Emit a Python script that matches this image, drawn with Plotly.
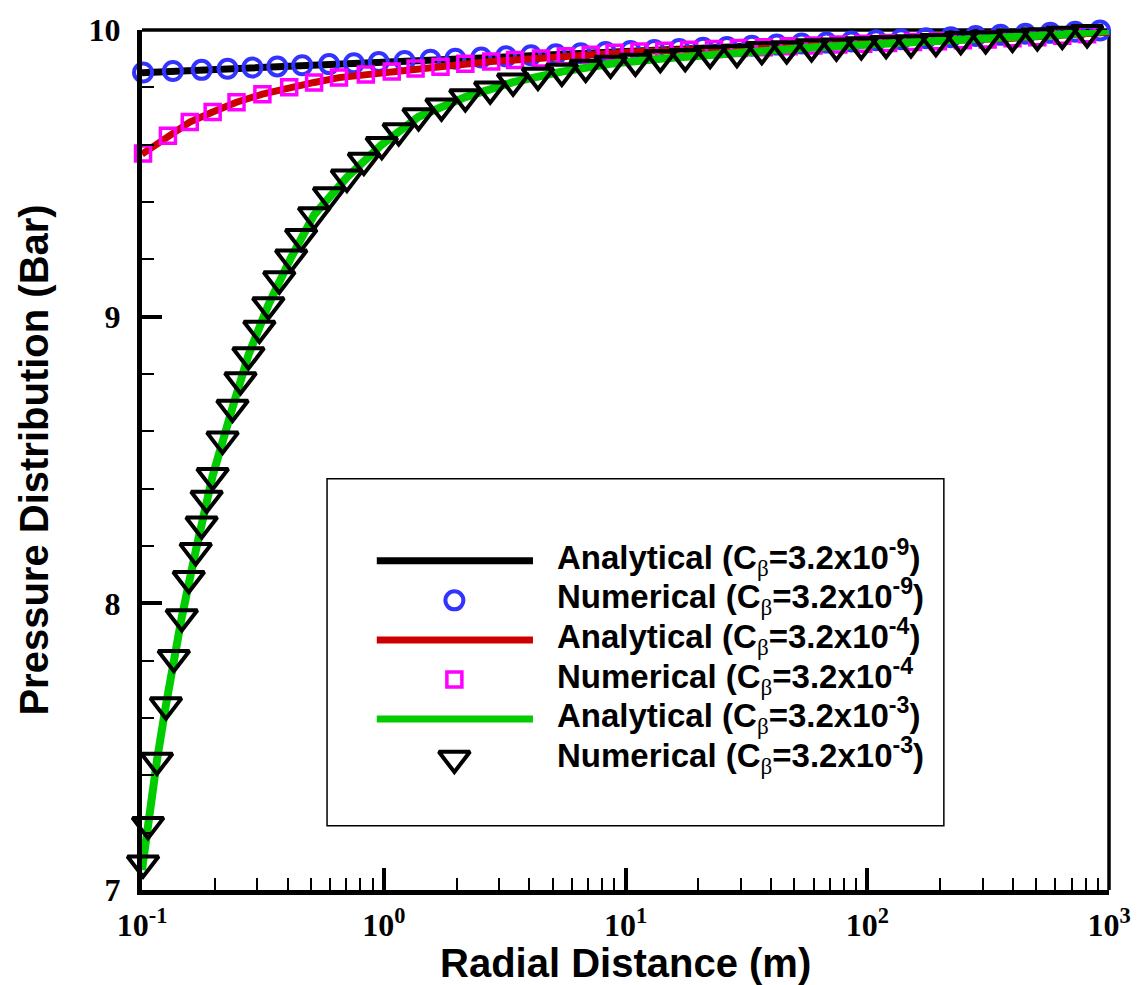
import plotly.graph_objects as go

# ---------------- data ----------------
# Analytical, C_beta = 3.2e-9 (black line)
black_r = [0.1, 0.3, 1, 3, 10, 30, 100, 300, 1000]
black_p = [9.851, 9.867, 9.887, 9.905, 9.925, 9.943, 9.961, 9.979, 9.997]

# Numerical, C_beta = 3.2e-9 (blue circles)
circ_r = [0.101, 0.1342, 0.1765, 0.2259, 0.2862, 0.3628, 0.4599, 0.5939, 0.7524, 0.9537,
          1.220, 1.561, 1.978, 2.531, 3.208, 4.066, 5.151, 6.529, 8.274, 10.48,
          13.16, 16.68, 20.94, 26.29, 33.32, 42.23, 53.51, 67.81, 85.96, 108.9,
          138.0, 174.9, 221.7, 280.9, 355.9, 451.1, 571.8, 724.6, 918.2]
circ_p = [9.852, 9.857, 9.861, 9.865, 9.869, 9.873, 9.877, 9.881, 9.884, 9.888,
          9.892, 9.896, 9.900, 9.904, 9.908, 9.912, 9.915, 9.919, 9.923, 9.927,
          9.930, 9.934, 9.938, 9.941, 9.945, 9.949, 9.953, 9.956, 9.960, 9.964,
          9.968, 9.971, 9.975, 9.979, 9.983, 9.987, 9.990, 9.994, 9.998]

# Analytical, C_beta = 3.2e-4 (red line)
red_r = [0.1, 0.128, 0.1576, 0.196, 0.246, 0.3148, 0.4064, 0.5151, 0.6529, 0.8432,
         1.079, 1.717, 2.783, 4.469, 7.178, 11.42, 23.25, 47.31, 96.27, 196.0, 398.8, 1000]
red_p = [9.567, 9.631, 9.679, 9.714, 9.748, 9.776, 9.800, 9.817, 9.834, 9.845,
         9.855, 9.872, 9.890, 9.901, 9.914, 9.925, 9.934, 9.943, 9.952, 9.961, 9.971, 9.992]

# Numerical, C_beta = 3.2e-4 (magenta squares)
sq_r = [0.101, 0.128, 0.1576, 0.196, 0.246, 0.3148, 0.4064, 0.5151, 0.6529, 0.8432,
        1.079, 1.354, 1.717, 2.175, 2.783, 3.493, 4.469, 5.664, 7.178, 9.01,
        11.42, 14.47, 18.34, 23.25, 29.46, 37.33, 47.31, 59.95, 75.97, 96.27,
        122.0, 154.6, 196.0, 248.4, 314.7, 398.8, 505.4, 640.8, 811.9]
sq_p = [9.569, 9.631, 9.679, 9.714, 9.748, 9.776, 9.800, 9.817, 9.834, 9.845,
        9.855, 9.866, 9.872, 9.882, 9.890, 9.895, 9.901, 9.908, 9.914, 9.921,
        9.925, 9.928, 9.931, 9.934, 9.937, 9.940, 9.943, 9.946, 9.949, 9.952,
        9.955, 9.958, 9.961, 9.964, 9.967, 9.971, 9.975, 9.980, 9.985]

# Analytical, C_beta = 3.2e-3 (green line)
green_r = [0.1, 0.1059, 0.1153, 0.1256, 0.1354, 0.1461, 0.1668, 0.196, 0.2368, 0.2756,
           0.3332, 0.4143, 0.5151, 0.704, 0.9813, 1.393, 2.175, 3.428, 5.453, 8.675,
           13.93, 22.38, 36.63, 58.83, 94.47, 151.7, 243.7, 398.8, 640.8, 1000]
green_p = [7.070, 7.228, 7.452, 7.645, 7.810, 7.952, 8.183, 8.445, 8.683, 8.866,
           9.041, 9.207, 9.355, 9.486, 9.600, 9.697, 9.766, 9.818, 9.855, 9.882,
           9.900, 9.915, 9.928, 9.939, 9.948, 9.956, 9.965, 9.974, 9.984, 9.997]

# Numerical, C_beta = 3.2e-3 (black down triangles)
tri_r = [0.101, 0.1059, 0.1153, 0.1256, 0.1354, 0.1461, 0.1561, 0.1668, 0.1765, 0.1851,
         0.1960, 0.2154, 0.2368, 0.2555, 0.2756, 0.3059, 0.3332, 0.3697, 0.4143, 0.4554,
         0.5151, 0.5939, 0.7040, 0.8274, 0.9813, 1.153, 1.393, 1.733, 2.175, 2.756,
         3.428, 4.344, 5.453, 6.845, 8.675, 10.99, 13.93, 17.66, 22.38, 28.90,
         36.63, 46.42, 58.83, 74.56, 94.47, 119.7, 151.7, 192.3, 243.7, 308.9,
         398.8, 505.4, 640.8, 811.9]
tri_p = [7.093, 7.228, 7.452, 7.645, 7.810, 7.952, 8.086, 8.183, 8.276, 8.366,
         8.445, 8.572, 8.683, 8.779, 8.866, 8.959, 9.041, 9.131, 9.207, 9.279,
         9.355, 9.424, 9.486, 9.545, 9.600, 9.648, 9.700, 9.734, 9.766, 9.793,
         9.821, 9.841, 9.855, 9.869, 9.883, 9.890, 9.903, 9.907, 9.917, 9.921,
         9.931, 9.934, 9.941, 9.943, 9.948, 9.952, 9.955, 9.959, 9.966, 9.969,
         9.974, 9.979, 9.984, 9.990]

x_tickvals = [0.1, 1, 10, 100, 1000]
x_ticktext = ["10<sup>-1</sup>", "10<sup>0</sup>", "10<sup>1</sup>", "10<sup>2</sup>", "10<sup>3</sup>"]
y_tickvals = [7, 8, 9, 10]
y_ticktext = ["7", "8", "9", "10"]

beta = '<span style="font-family:Liberation Serif;font-weight:normal">β</span>'
legend_labels = [
    "Analytical (C<sub>" + beta + "</sub>=3.2x10<sup>-9</sup>)",
    "Numerical (C<sub>" + beta + "</sub>=3.2x10<sup>-9</sup>)",
    "Analytical (C<sub>" + beta + "</sub>=3.2x10<sup>-4</sup>)",
    "Numerical (C<sub>" + beta + "</sub>=3.2x10<sup>-4</sup>",
    "Analytical (C<sub>" + beta + "</sub>=3.2x10<sup>-3</sup>)",
    "Numerical (C<sub>" + beta + "</sub>=3.2x10<sup>-3</sup>)",
]

# ---------------- styles ----------------
BLACK = "#000000"
BLUE = "#3333ff"
RED = "#cc0000"
MAGENTA = "#ff00ff"
GREEN = "#00cc00"
SANS = "Liberation Sans, Arial, sans-serif"
SERIF = "Liberation Serif, Times New Roman, serif"

circ_style = dict(symbol="circle-open", size=18, color=BLUE, line=dict(width=4, color=BLUE))
sq_style = dict(symbol="square-open", size=15, color=MAGENTA, line=dict(width=3.5, color=MAGENTA))
tri_style = dict(symbol="triangle-down-open", size=27, color=BLACK, line=dict(width=4, color=BLACK))

fig = go.Figure()
fig.add_trace(go.Scatter(x=black_r, y=black_p, mode="lines", line=dict(color=BLACK, width=7)))
fig.add_trace(go.Scatter(x=circ_r, y=circ_p, mode="markers", marker=circ_style, cliponaxis=False))
fig.add_trace(go.Scatter(x=red_r, y=red_p, mode="lines", line=dict(color=RED, width=7)))
fig.add_trace(go.Scatter(x=sq_r, y=sq_p, mode="markers", marker=sq_style, cliponaxis=False))
fig.add_trace(go.Scatter(x=green_r, y=green_p, mode="lines", line=dict(color=GREEN, width=8), cliponaxis=False))
fig.add_trace(go.Scatter(x=tri_r, y=tri_p, mode="markers", marker=tri_style, cliponaxis=False))

# ---------------- custom legend (paper-like overlay axes) ----------------
W, H = 1143, 985
ML, MR, MT, MB = 142, 29, 20, 95
pw, ph = W - ML - MR, H - MT - MB


def px_x(p):
    return (p - ML) / pw


def px_y(p):
    return (H - MB - p) / ph


row_px = [557, 597, 637, 677, 717, 757]
line_x0, line_x1 = px_x(378), px_x(535)
mark_x = px_x(456)
text_x = px_x(557)

kinds = ["line", "circ", "line", "sq", "line", "tri"]
line_cols = [BLACK, None, RED, None, GREEN, None]
for i, k in enumerate(kinds):
    yy = px_y(row_px[i])
    if k == "line":
        fig.add_trace(go.Scatter(x=[line_x0, line_x1], y=[yy, yy], mode="lines",
                                 line=dict(color=line_cols[i], width=7),
                                 xaxis="x2", yaxis="y2", cliponaxis=False))
    else:
        st = {"circ": circ_style, "sq": sq_style, "tri": tri_style}[k]
        fig.add_trace(go.Scatter(x=[mark_x], y=[yy], mode="markers", marker=st,
                                 xaxis="x2", yaxis="y2", cliponaxis=False))
    fig.add_annotation(xref="paper", yref="paper", x=text_x, y=yy + 0.004,
                       xanchor="left", yanchor="middle", showarrow=False,
                       text=legend_labels[i],
                       font=dict(family=SANS, size=33, color=BLACK, weight="bold"))

shapes = [
    dict(type="rect", xref="paper", yref="paper", x0=px_x(328), x1=px_x(948),
         y0=px_y(825), y1=px_y(474), line=dict(color=BLACK, width=1.5), layer="below"),
    dict(type="line", xref="paper", yref="paper", x0=0, x1=1, y0=1, y1=1,
         line=dict(color=BLACK, width=3.5), layer="below"),
    dict(type="line", xref="paper", yref="paper", x0=1, x1=1, y0=0, y1=1,
         line=dict(color=BLACK, width=3.5), layer="below"),
]

# axis titles
fig.add_annotation(xref="paper", yref="paper", x=0.5, y=px_y(964), xanchor="center",
                   yanchor="middle", showarrow=False, text="Radial Distance (m)",
                   font=dict(family=SANS, size=40, color=BLACK, weight="bold"))
fig.add_annotation(xref="paper", yref="paper", x=px_x(33), y=px_y(455), xanchor="center",
                   yanchor="middle", showarrow=False, textangle=-90,
                   text="Pressure Distribution (Bar)",
                   font=dict(family=SANS, size=40, color=BLACK, weight="bold"))

x_minor = [m * d for d in [0.1, 1, 10, 100] for m in [2, 3, 4, 5, 6, 7, 8, 9]]
y_minor = [7.2, 7.4, 7.6, 7.8, 8.2, 8.4, 8.6, 8.8, 9.2, 9.4, 9.6, 9.8]

fig.update_layout(
    width=W, height=H,
    margin=dict(l=ML, r=MR, t=MT, b=MB),
    paper_bgcolor="white", plot_bgcolor="white",
    showlegend=False,
    shapes=shapes,
    xaxis=dict(type="log", range=[-1, 3], showgrid=False, zeroline=False,
               showline=True, linecolor=BLACK, linewidth=5,
               ticks="inside", ticklen=22, tickwidth=4, tickcolor=BLACK,
               tickmode="array", tickvals=x_tickvals, ticktext=x_ticktext,
               ticklabelstandoff=3,
               tickfont=dict(family=SERIF, size=32, color=BLACK, weight="bold"),
               minor=dict(ticks="inside", ticklen=12, tickwidth=2, tickcolor=BLACK,
                          tickmode="array", tickvals=x_minor, showgrid=False)),
    yaxis=dict(range=[7, 10], showgrid=False, zeroline=False,
               showline=True, linecolor=BLACK, linewidth=5,
               ticks="inside", ticklen=20, tickwidth=4, tickcolor=BLACK,
               tickmode="array", tickvals=y_tickvals, ticktext=y_ticktext,
               ticklabelstandoff=10,
               tickfont=dict(family=SERIF, size=32, color=BLACK, weight="bold"),
               minor=dict(ticks="inside", ticklen=12, tickwidth=2, tickcolor=BLACK,
                          tickmode="array", tickvals=y_minor, showgrid=False)),
    xaxis2=dict(domain=[0, 1], range=[0, 1], overlaying="x", visible=False, fixedrange=True),
    yaxis2=dict(domain=[0, 1], range=[0, 1], overlaying="y", visible=False, fixedrange=True),
)

fig.write_html("out.html")
